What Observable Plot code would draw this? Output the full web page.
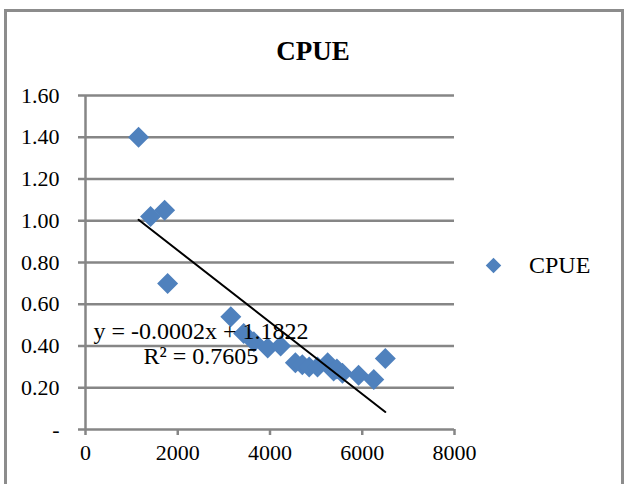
<!DOCTYPE html>
<html>
<head>
<meta charset="utf-8">
<script src="https://cdn.jsdelivr.net/npm/d3@7"></script>
<script src="https://cdn.jsdelivr.net/npm/@observablehq/plot@0.6"></script>
<style>
  html, body { margin: 0; padding: 0; background: #fff; }
  #wrap { position: relative; width: 632px; height: 484px; overflow: hidden; background: #fff; font-family: "Liberation Serif", "DejaVu Serif", serif; }
  #border { position: absolute; left: 4px; top: 9px; width: 620px; height: 520px; box-sizing: border-box; border: 3px solid #8c8c8c; }
  #title { position: absolute; left: 0; top: 38px; width: 626px; text-align: center; font-weight: bold; font-size: 27px; line-height: 27px; color: #000; }
  #chart { position: absolute; left: 0; top: 70px; }
  #legend { position: absolute; left: 486px; top: 253px; height: 24px; display: flex; align-items: center; font-size: 24px; line-height: 24px; color: #000; }
  #legend .sw { width: 11px; height: 11px; background: #4f81bd; transform: rotate(45deg); margin-right: 30px; margin-left: 2px; }
</style>
</head>
<body>
<div id="wrap">
  <div id="border"></div>
  <div id="title"></div>
  <div id="chart"></div>
  <div id="legend"><div class="sw"></div><span id="legendText"></span></div>
</div>
<script>
// ---- data ----
const chartTitle = "CPUE";
const seriesName = "CPUE";
const effort = [1150, 1410, 1715, 1780, 3150, 3430, 3650, 3950, 4230, 4550, 4700, 4850, 5030, 5250, 5380, 5450, 5570, 5920, 6250, 6500];
const cpue   = [1.40, 1.02, 1.05, 0.70, 0.54, 0.46, 0.42, 0.39, 0.40, 0.32, 0.31, 0.30, 0.30, 0.32, 0.28, 0.29, 0.27, 0.26, 0.24, 0.34];
const xTicks = [0, 2000, 4000, 6000, 8000];
const yTicks = [0, 0.2, 0.4, 0.6, 0.8, 1.0, 1.2, 1.4, 1.6];
const equationLines = ["y = -0.0002x + 1.1822", "R\u00b2 = 0.7605"];

const data = effort.map((e, i) => ({effort: e, cpue: cpue[i]}));

document.getElementById("title").textContent = chartTitle;
document.getElementById("legendText").textContent = seriesName;

const gray = "#868686";
const blue = "#4f81bd";
const diamond = {
  draw(ctx, size) {
    const h = Math.sqrt(size / Math.PI);
    ctx.moveTo(0, -h); ctx.lineTo(h, 0); ctx.lineTo(0, h); ctx.lineTo(-h, 0); ctx.closePath();
  }
};

const plot = Plot.plot({
  width: 632,
  height: 404,
  marginLeft: 85,
  marginRight: 178,
  marginTop: 25,
  marginBottom: 45,
  style: {fontFamily: "'Liberation Serif', serif", fontSize: "22px", color: "#000", background: "transparent"},
  x: {domain: [0, 8000]},
  y: {domain: [0, 1.6]},
  marks: [
    Plot.ruleY(yTicks.slice(1), {stroke: gray, strokeWidth: 2.5}),
    Plot.ruleX([0], {stroke: gray, strokeWidth: 2.5}),
    Plot.ruleY([0], {stroke: gray, strokeWidth: 2.5}),
    Plot.axisY({ticks: yTicks, tickSize: 7, tickPadding: 19, stroke: gray, strokeWidth: 2.5, fill: "#000", fontSize: 22, label: null,
      tickFormat: d => d === 0 ? "-" : d.toFixed(2)}),
    Plot.axisX({ticks: xTicks, tickSize: 6, tickPadding: 9, stroke: gray, strokeWidth: 2.5, fill: "#000", fontSize: 22, label: null,
      tickFormat: d3.format("d")}),
    Plot.dot(data, {x: "effort", y: "cpue", r: 10.5, symbol: diamond, fill: blue, stroke: "none"}),
    Plot.linearRegressionY(data, {x: "effort", y: "cpue", ci: 0, stroke: "#000", strokeWidth: 2}),
    Plot.text([equationLines[0]], {frameAnchor: "bottom-left", dx: 8, dy: -91, textAnchor: "start", fontSize: 24, fill: "#000"}),
    Plot.text([equationLines[1]], {frameAnchor: "bottom-left", dx: 58, dy: -66, textAnchor: "start", fontSize: 24, fill: "#000"})
  ]
});
document.getElementById("chart").appendChild(plot);
</script>
</body>
</html>
